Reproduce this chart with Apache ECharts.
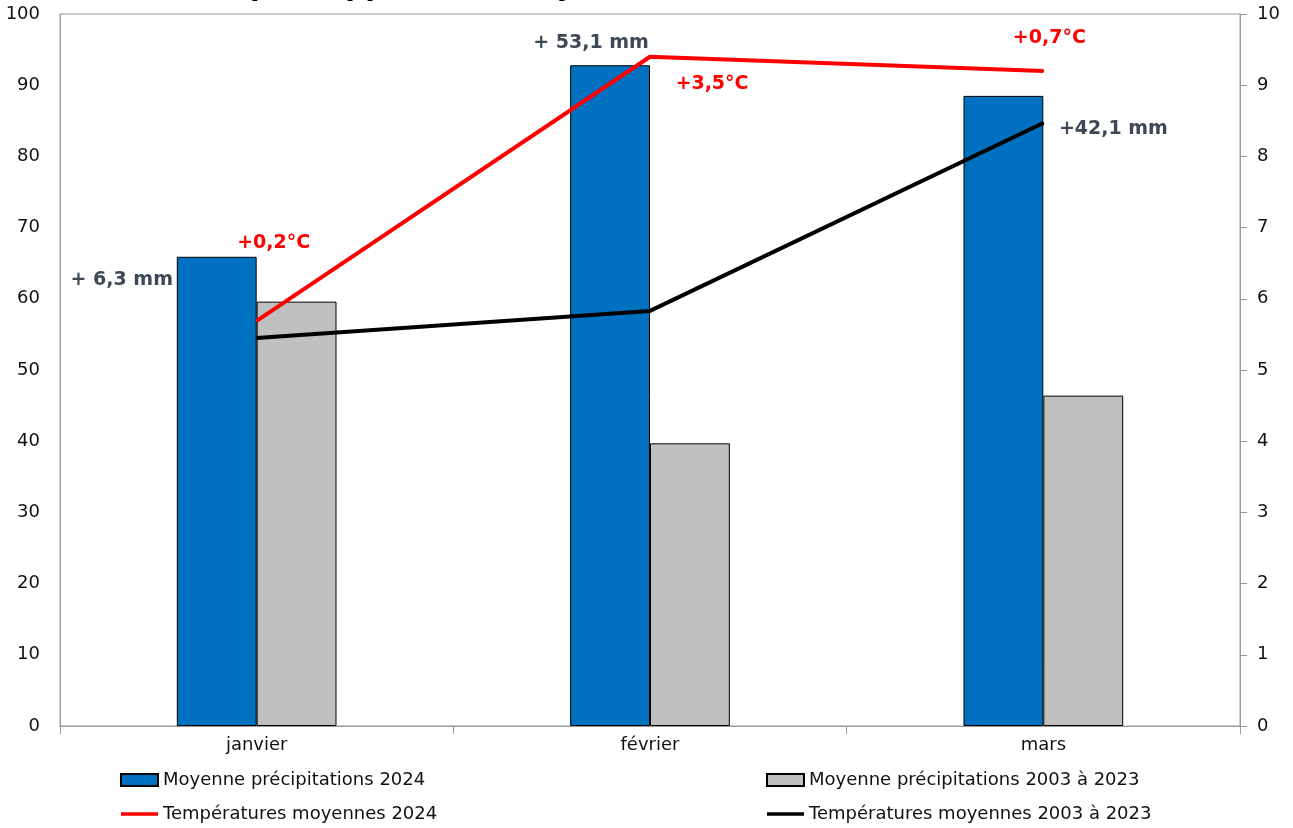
<!DOCTYPE html>
<html>
<head>
<meta charset="utf-8">
<script src="https://cdn.jsdelivr.net/npm/echarts@6/dist/echarts.min.js"></script>
<style>
html,body{margin:0;padding:0;background:#fff;}
#chart{width:1293px;height:828px;}
</style>
</head>
<body>
<div id="chart"></div>
<script>
var categories = ['janvier', 'février', 'mars'];
var precip2024 = [65.9, 92.8, 88.5];
var precipRef = [59.6, 39.7, 46.4];
var temp2024 = [5.69, 9.40, 9.20];
var tempRef = [5.45, 5.83, 8.47];
var precipDiffLabels = ['+ 6,3 mm', '+ 53,1 mm', '+42,1 mm'];
var tempDiffLabels = ['+0,2°C', '+3,5°C', '+0,7°C'];
var seriesNames = ['Moyenne précipitations 2024', 'Moyenne précipitations 2003 à 2023',
                   'Températures moyennes 2024', 'Températures moyennes 2003 à 2023'];
var titleText = 'par rapport aux moyennes de 2003 à 2023';

var FONT = 'DejaVu Sans';
var precipLabelOffsets = [[-95, 38], [-19, -8], [110, 48]];
var tempLabelOffsets = [[17, -78], [62, 27], [6, -33]];
var LINE_ICON = 'path://M0,0L0.01,0L0.01,0Z M0,4.2L40,4.2L40,7.8L0,7.8Z M0,12L0.01,12L0.01,12Z';

var chart = echarts.init(document.getElementById('chart'), null, {renderer: 'canvas'});

var blueData = precip2024.map(function (v, i) {
  return {
    value: v,
    label: {
      show: true, position: 'top', distance: 5, offset: precipLabelOffsets[i],
      formatter: precipDiffLabels[i], color: '#3f4858', fontWeight: 'bold',
      fontSize: 19, fontFamily: FONT
    }
  };
});
var redData = temp2024.map(function (v, i) {
  return {
    value: v,
    label: {
      show: true, position: 'inside', offset: tempLabelOffsets[i],
      formatter: tempDiffLabels[i], color: '#ff0000', fontWeight: 'bold',
      fontSize: 19, fontFamily: FONT
    }
  };
});

var option = {
  animation: false,
  backgroundColor: '#fff',
  textStyle: {fontFamily: FONT},
  title: {
    text: titleText, left: 250, top: -26, padding: 0,
    textStyle: {fontFamily: FONT, fontSize: 28, fontWeight: 'bold', color: '#000'}
  },
  grid: {left: 60, right: 53, top: 14, bottom: 102, show: true, borderColor: '#9a9a9a', borderWidth: 1},
  legend: [
    {
      left: 115, top: 766, orient: 'vertical', itemGap: 16, itemWidth: 37, itemHeight: 12,
      textStyle: {fontFamily: FONT, fontSize: 18, color: '#111'},
      data: [
        {name: seriesNames[0], icon: 'rect'},
        {name: seriesNames[2], icon: LINE_ICON, itemStyle: {color: '#ff0000', borderWidth: 0}}
      ]
    },
    {
      left: 761, top: 766, orient: 'vertical', itemGap: 16, itemWidth: 37, itemHeight: 12,
      textStyle: {fontFamily: FONT, fontSize: 18, color: '#111'},
      data: [
        {name: seriesNames[1], icon: 'rect'},
        {name: seriesNames[3], icon: LINE_ICON, itemStyle: {color: '#000', borderWidth: 0}}
      ]
    }
  ],
  xAxis: {
    type: 'category', data: categories,
    axisLine: {lineStyle: {color: '#9a9a9a', width: 1}},
    axisTick: {show: true, length: 8, lineStyle: {color: '#9a9a9a'}},
    axisLabel: {fontFamily: FONT, fontSize: 18, color: '#111', margin: 10},
    splitLine: {show: false}
  },
  yAxis: [
    {
      type: 'value', min: 0, max: 100, interval: 10,
      axisLine: {show: true, lineStyle: {color: '#9a9a9a'}},
      axisTick: {show: false},
      axisLabel: {fontFamily: FONT, fontSize: 18, color: '#111', margin: 20},
      splitLine: {show: false}
    },
    {
      type: 'value', min: 0, max: 10, interval: 1, position: 'right',
      axisLine: {show: true, lineStyle: {color: '#9a9a9a'}},
      axisTick: {show: true, length: 7, lineStyle: {color: '#9a9a9a'}},
      axisLabel: {fontFamily: FONT, fontSize: 18, color: '#111', margin: 17},
      splitLine: {show: false}
    }
  ],
  series: [
    {
      name: seriesNames[0], type: 'bar', yAxisIndex: 0, data: blueData,
      barWidth: '20.3%', barGap: '0%',
      itemStyle: {color: '#0070c0', borderColor: '#000', borderWidth: 1}
    },
    {
      name: seriesNames[1], type: 'bar', yAxisIndex: 0, data: precipRef,
      barWidth: '20.3%', barGap: '0%',
      itemStyle: {color: '#c0c0c0', borderColor: '#000', borderWidth: 1}
    },
    {
      name: seriesNames[2], type: 'line', yAxisIndex: 1, data: redData,
      symbol: 'circle', symbolSize: 2, showSymbol: true,
      lineStyle: {color: '#ff0000', width: 4}, itemStyle: {color: '#ff0000'}, z: 5
    },
    {
      name: seriesNames[3], type: 'line', yAxisIndex: 1, data: tempRef,
      symbol: 'circle', symbolSize: 2, showSymbol: true,
      lineStyle: {color: '#000', width: 4}, itemStyle: {color: '#000'}, z: 4
    }
  ]
};
chart.setOption(option);
</script>
</body>
</html>
